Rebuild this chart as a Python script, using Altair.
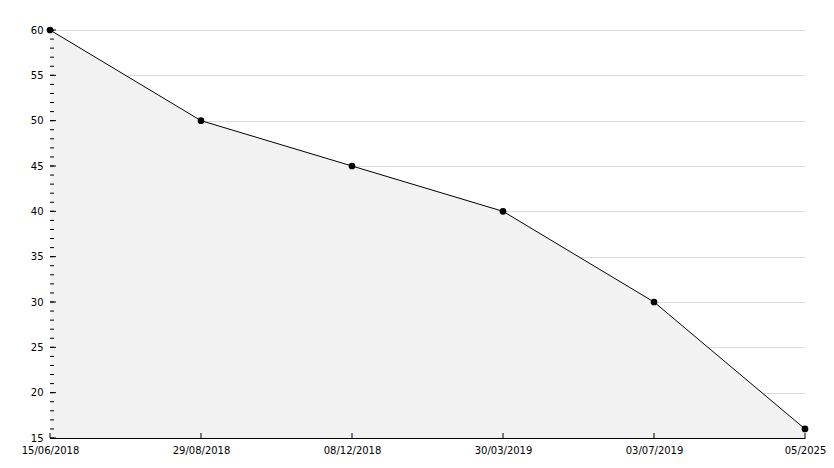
import altair as alt
import pandas as pd

dates = ["15/06/2018", "29/08/2018", "08/12/2018", "30/03/2019", "03/07/2019", "05/2025"]
values = [60, 50, 45, 40, 30, 16]
minor_ticks = list(range(15, 61))
major_ticks = list(range(15, 61, 5))

W, H = 755, 408

df = pd.DataFrame({"date": dates, "value": values})
minor_df = pd.DataFrame({"value": minor_ticks})
major_df = pd.DataFrame({"value": major_ticks})
xt_df = pd.DataFrame({"date": dates})

xaxis = alt.Axis(labelAngle=0, ticks=False, labelPadding=7,
                 labelFontSize=10, labelColor="black",
                 labelFont="DejaVu Sans", domainColor="black",
                 labelFlush=False, grid=False)
xscale = alt.Scale(type="point", padding=0)
yscale = alt.Scale(domain=[15, 60], nice=False, zero=False)
yaxis = alt.Axis(values=major_ticks, ticks=False, labelPadding=7,
                 labelFontSize=10, labelColor="black",
                 labelFont="DejaVu Sans", domainColor="black",
                 grid=True, gridColor="#dcdcdc")


def X():
    return alt.X("date:N", sort=dates, title=None, scale=xscale, axis=xaxis)


def Y():
    return alt.Y("value:Q", title=None, scale=yscale, axis=yaxis)


area = alt.Chart(df).mark_area(color="#f2f2f2", opacity=1, clip=True).encode(
    x=X(), y=Y())
line = alt.Chart(df).mark_line(color="black", strokeWidth=1).encode(
    x=X(), y=Y())
pts = alt.Chart(df).mark_point(filled=True, shape="circle", size=45,
                               color="black", opacity=1).encode(
    x=X(), y=Y())

minor = alt.Chart(minor_df).mark_rule(color="black", strokeWidth=1).encode(
    y=Y(), x=alt.value(0), x2=alt.value(4))
major = alt.Chart(major_df).mark_rule(color="black", strokeWidth=1).encode(
    y=Y(), x=alt.value(0), x2=alt.value(6))
xticks = alt.Chart(xt_df).mark_rule(color="black", strokeWidth=1).encode(
    x=X(), y=alt.value(H), y2=alt.value(H - 5))

chart = alt.layer(area, line, minor, major, xticks, pts).properties(
    width=W, height=H,
    autosize=alt.AutoSizeParams(type="none"),
    padding={"left": 42, "top": 22, "right": 21, "bottom": 22},
    background="white",
).configure_view(stroke=None)

chart.save("out.html", embed_options={"renderer": "svg", "actions": False})
